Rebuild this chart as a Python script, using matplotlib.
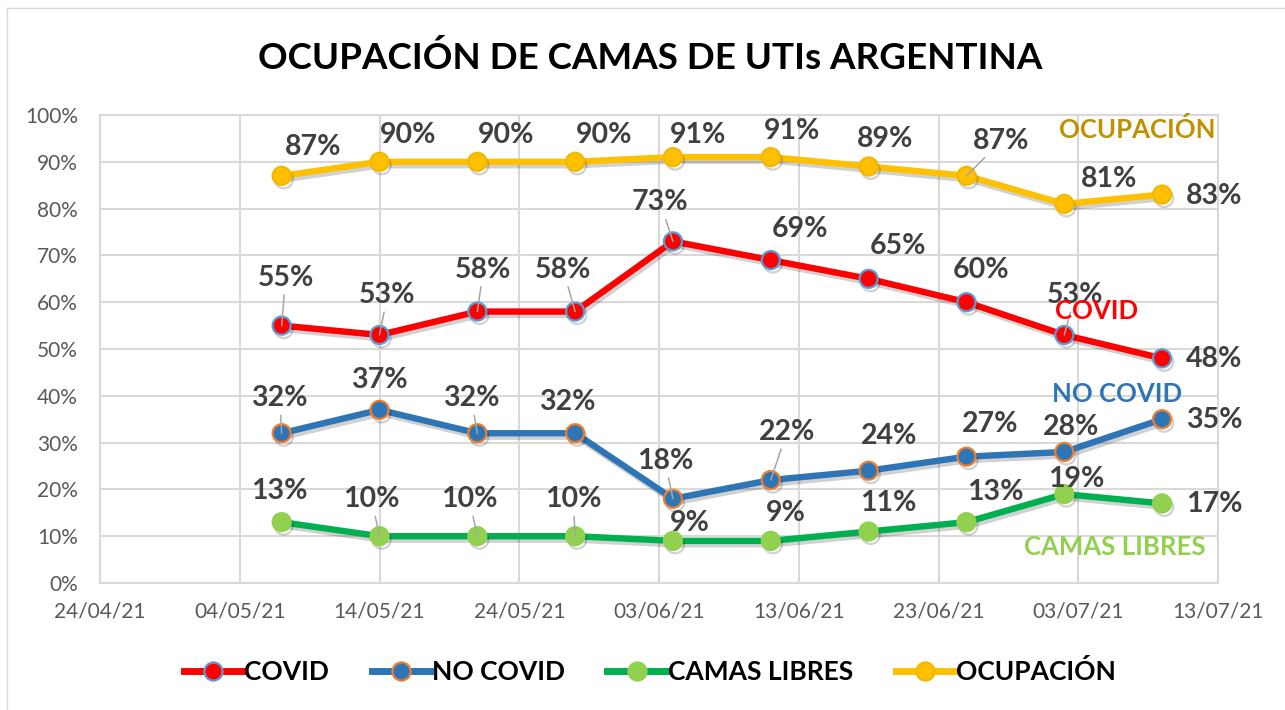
import matplotlib
matplotlib.use("Agg")
import matplotlib.pyplot as plt
import matplotlib.dates as mdates
import matplotlib.patheffects as pe
from matplotlib.lines import Line2D
import numpy as np
import pandas as pd

# ---------------- data ----------------
dates = ["2021-05-07", "2021-05-14", "2021-05-21", "2021-05-28", "2021-06-04",
         "2021-06-11", "2021-06-18", "2021-06-25", "2021-07-02", "2021-07-09"]
covid = [55, 53, 58, 58, 73, 69, 65, 60, 53, 48]
no_covid = [32, 37, 32, 32, 18, 22, 24, 27, 28, 35]
camas_libres = [13, 10, 10, 10, 9, 9, 11, 13, 19, 17]
ocupacion = [87, 90, 90, 90, 91, 91, 89, 87, 81, 83]
series_names = ["COVID", "NO COVID", "CAMAS LIBRES", "OCUPACIÓN"]
title = "OCUPACIÓN DE CAMAS DE UTIs ARGENTINA"
x_start, x_end = "2021-04-24", "2021-07-13"
y_ticks = [0, 10, 20, 30, 40, 50, 60, 70, 80, 90, 100]

# ---------------- style ----------------
FONT = "Lato"
plt.rcParams["font.family"] = [FONT, "DejaVu Sans"]

x = pd.to_datetime(dates)
W, H = 1285, 710
fig = plt.figure(figsize=(W / 100, H / 100), dpi=100)
L, R, T, B = 100, 1218, 115, 583
ax = fig.add_axes([L / W, 1 - B / H, (R - L) / W, (B - T) / H])

grid_c = "#D9D9D9"
label_c = "#404040"
tick_c = "#595959"

styles = {
    "COVID": dict(line="#FF0000", face="#FF0000", edge="#5B9BD5"),
    "NO COVID": dict(line="#2E75B6", face="#2E75B6", edge="#ED7D31"),
    "CAMAS LIBRES": dict(line="#00B050", face="#92D050", edge="#92D050"),
    "OCUPACIÓN": dict(line="#FFC000", face="#FFC000", edge="#F2B800"),
}
data = {"COVID": covid, "NO COVID": no_covid,
        "CAMAS LIBRES": camas_libres, "OCUPACIÓN": ocupacion}

shadow = [pe.SimpleLineShadow(offset=(1.5, -2.5), shadow_color="k", alpha=0.18), pe.Normal()]

for name in ["OCUPACIÓN", "COVID", "NO COVID", "CAMAS LIBRES"]:
    st = styles[name]
    ax.plot(x, data[name], color=st["line"], lw=4.6, marker="o", ms=13,
            mfc=st["face"], mec=st["edge"], mew=1.6, solid_joinstyle="round",
            path_effects=shadow, zorder=3, label=name)

# label offsets in pixels (dx, dy, leader)
offsets = {
    "OCUPACIÓN": [(31, 29, 0), (29, 27, 0), (29, 27, 0), (29, 27, 0), (25, 22, 0),
                  (21, 26, 0), (16, 27, 0), (35, 35, 1), (45, 25, 0), None],
    "COVID": [(4, 48, 1), (8, 40, 1), (6, 42, 1), (-12, 42, 1), (-13, 39, 1),
              (29, 31, 0), (29, 33, 0), (15, 32, 0), (11, 40, 1), None],
    "NO COVID": [(-2, 35, 1), (0, 30, 0), (-6, 35, 1), (-8, 31, 0), (-8, 38, 1),
                 (16, 48, 1), (20, 35, 0), (24, 33, 0), (7, 25, 0), None],
    "CAMAS LIBRES": [(-2, 31, 0), (-8, 37, 1), (-8, 37, 1), (-2, 37, 1), (17, 18, 0),
                     (15, 28, 0), (20, 29, 0), (29, 30, 0), (12, 15, 0), None],
}

LBL = 20.5
for name, vals in data.items():
    for i, (xi, v) in enumerate(zip(x, vals)):
        off = offsets[name][i]
        txt = f"{v}%"
        if off is None:
            ax.annotate(txt, (xi, v), xytext=(24, -1), textcoords="offset pixels",
                        ha="left", va="center", fontsize=LBL, fontweight="bold",
                        color=label_c, zorder=5, annotation_clip=False)
        else:
            dx, dy, lead = off
            kw = {}
            if lead:
                kw["arrowprops"] = dict(arrowstyle="-", color="#A6A6A6", lw=1.1,
                                        shrinkA=1, shrinkB=0)
            ax.annotate(txt, (xi, v), xytext=(dx, dy), textcoords="offset pixels",
                        ha="center", va="center", fontsize=LBL, fontweight="bold",
                        color=label_c, zorder=5, annotation_clip=False, **kw)

# series name labels
def axfrac(px, py):
    return (px - L) / (R - L), (B - py) / (B - T)

name_pos = {
    "OCUPACIÓN": ((1137, 129), "#BF9000"),
    "COVID": ((1097, 311), "#FF0000"),
    "NO COVID": ((1117, 394), "#2E75B6"),
    "CAMAS LIBRES": ((1115, 547), "#92D050"),
}
for name, ((px, py), c) in name_pos.items():
    fx, fy = axfrac(px, py)
    ax.text(fx, fy, name, transform=ax.transAxes, ha="center", va="center",
            fontsize=18.5, fontweight="bold", color=c, zorder=6)

# axes
ax.set_xlim(pd.Timestamp(x_start), pd.Timestamp(x_end))
ax.set_ylim(0, 100)
ticks = pd.date_range(x_start, x_end, freq="10D")
ax.set_xticks(ticks)
ax.xaxis.set_major_formatter(mdates.DateFormatter("%d/%m/%y"))
ax.set_yticks(y_ticks)
ax.set_yticklabels([f"{t}%" for t in y_ticks])
ax.tick_params(length=0, labelsize=15, colors=tick_c)
ax.tick_params(axis="y", pad=16)
ax.tick_params(axis="x", pad=13)
ax.grid(True, color=grid_c, lw=1.5)
ax.set_axisbelow(True)
for s in ax.spines.values():
    s.set_color(grid_c)
    s.set_linewidth(1.5)

# title
fig.text(650 / W, 1 - 58 / H, title, ha="center", va="center",
         fontsize=26.5, fontweight="bold", color="black")

# legend
leg_handles = []
for name in series_names:
    st = styles[name]
    leg_handles.append(Line2D([], [], color=st["line"], lw=5, marker="o", ms=13,
                              mfc=st["face"], mec=st["edge"], mew=1.6))
leg = fig.legend(leg_handles, series_names, loc="center", bbox_to_anchor=(650 / W, 1 - 672 / H),
                 ncol=4, frameon=False, handlelength=2.2, handletextpad=0.1,
                 columnspacing=1.6, prop=dict(family=FONT, weight="bold", size=19))
for t in leg.get_texts():
    t.set_color("black")

# figure border
fig.add_artist(Line2D([7 / W, 1], [1 - 8 / H, 1 - 8 / H], transform=fig.transFigure,
                      color="#D9D9D9", lw=1))
fig.add_artist(Line2D([7 / W, 7 / W], [0, 1 - 8 / H], transform=fig.transFigure,
                      color="#D9D9D9", lw=1))

fig.savefig("out.png", dpi=100, facecolor="white")
